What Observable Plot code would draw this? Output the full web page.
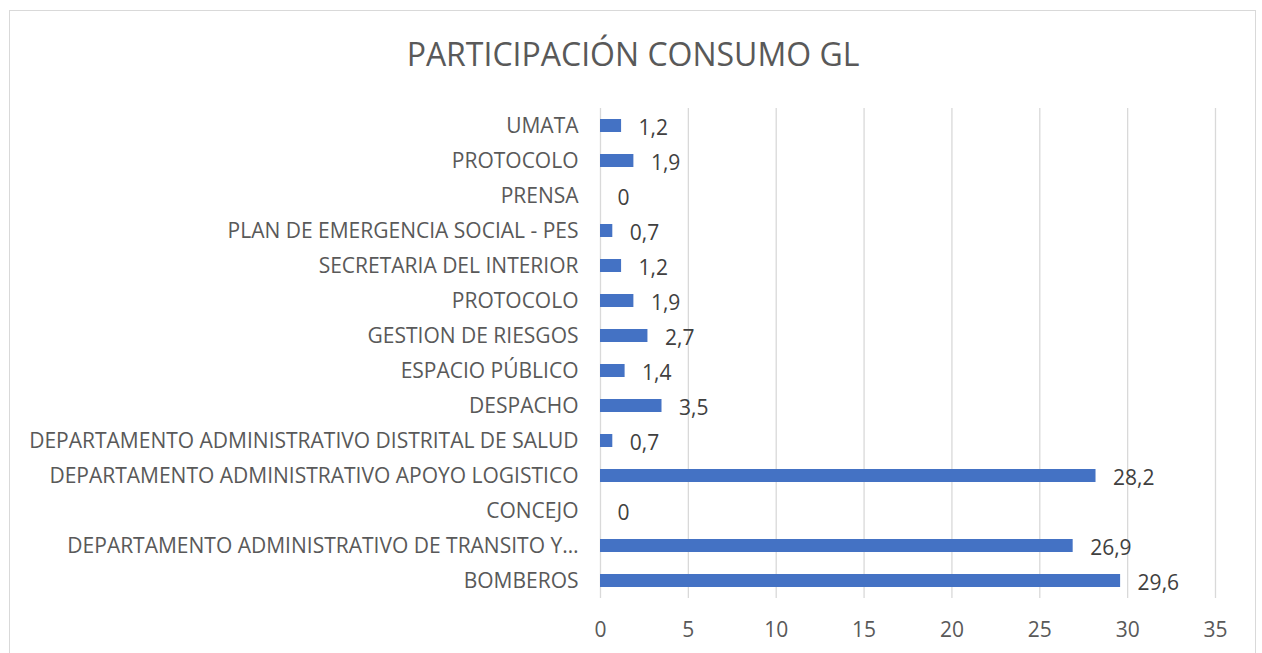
<!DOCTYPE html>
<html>
<head>
<meta charset="utf-8">
<script src="https://cdn.jsdelivr.net/npm/d3@7"></script>
<script src="https://cdn.jsdelivr.net/npm/@observablehq/plot@0.6"></script>
<style>
  html, body { margin: 0; padding: 0; background: #fff; }
  #wrap { position: relative; width: 1262px; height: 653px; overflow: hidden; font-family: "Open Sans", Lato, sans-serif; }
  #frame { position: absolute; left: 9px; top: 10px; width: 1247px; height: 660px; border: 1px solid #d9d9d9; box-sizing: border-box; }
  #title { position: absolute; left: 0; width: 1266px; top: 32px; text-align: center; font-size: 32px; color: #595959; font-family: "Open Sans", Lato, sans-serif; white-space: nowrap; }
  #chart { position: absolute; left: 0; top: 0; }
</style>
</head>
<body>
<div id="wrap">
  <div id="frame"></div>
  <div id="chart"></div>
  <div id="title">PARTICIPACIÓN CONSUMO GL</div>
</div>
<script>
const categories = [
  "UMATA",
  "PROTOCOLO",
  "PRENSA",
  "PLAN DE EMERGENCIA SOCIAL - PES",
  "SECRETARIA DEL INTERIOR",
  "PROTOCOLO",
  "GESTION DE RIESGOS",
  "ESPACIO PÚBLICO",
  "DESPACHO",
  "DEPARTAMENTO ADMINISTRATIVO DISTRITAL DE SALUD",
  "DEPARTAMENTO ADMINISTRATIVO APOYO LOGISTICO",
  "CONCEJO",
  "DEPARTAMENTO ADMINISTRATIVO DE TRANSITO Y…",
  "BOMBEROS"
];
const values = [1.2, 1.9, 0, 0.7, 1.2, 1.9, 2.7, 1.4, 3.5, 0.7, 28.2, 0, 26.9, 29.6];
const xTicks = [0, 5, 10, 15, 20, 25, 30, 35];

const data = categories.map((c, i) => ({key: i, label: c, value: values[i]}));
const fmt = v => String(v).replace(".", ",");

const chart = Plot.plot({
  width: 1262,
  height: 653,
  marginLeft: 600,
  marginRight: 47,
  marginTop: 108,
  marginBottom: 55,
  style: {fontFamily: "'Open Sans', Lato, sans-serif", color: "#595959", background: "transparent"},
  x: {domain: [0, 35], ticks: xTicks, label: null},
  y: {domain: data.map(d => d.key), paddingInner: 0.63, paddingOuter: 0.315, label: null},
  marks: [
    Plot.ruleX(xTicks, {stroke: "#d9d9d9", strokeWidth: 1.3, strokeOpacity: 1}),
    Plot.barX(data, {x: "value", y: "key", fill: "#4472C4"}),
    Plot.text(data, {x: "value", y: "key", text: d => fmt(d.value), textAnchor: "start", dx: 17, dy: 2, fontSize: 21, fill: "#404040"}),
    Plot.axisY({tickSize: 0, tickPadding: 22, tickFormat: k => categories[k], fontSize: 21, fill: "#595959"}),
    Plot.axisX({ticks: xTicks, tickSize: 0, tickPadding: 24, fontSize: 21, fill: "#595959"})
  ]
});
document.getElementById("chart").appendChild(chart);
</script>
</body>
</html>
